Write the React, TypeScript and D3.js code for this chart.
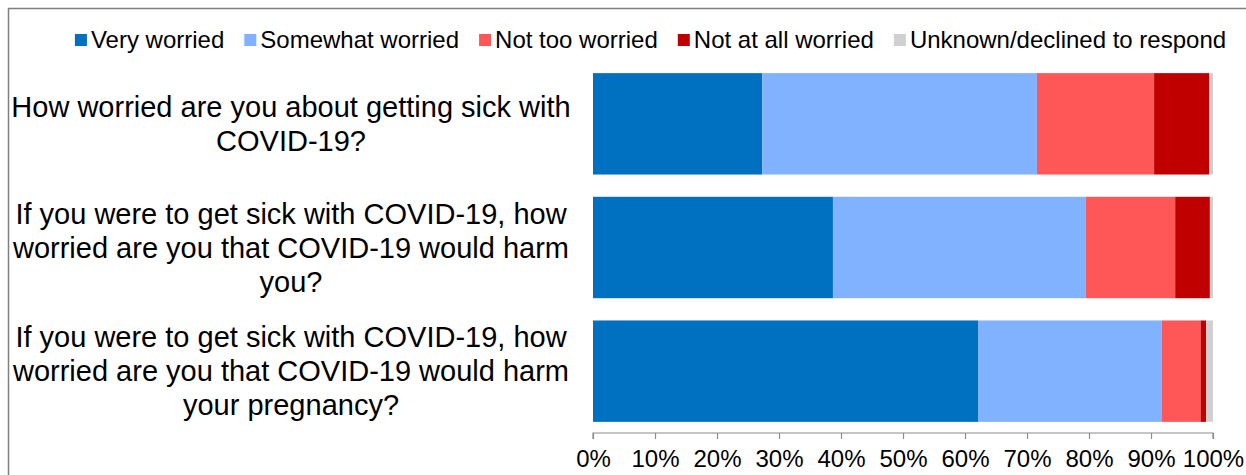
import React, { useRef, useEffect } from "react";
import * as d3 from "d3";

const questions = [
  ["How worried are you about getting sick with", "COVID-19?"],
  ["If you were to get sick with COVID-19, how", "worried are you that COVID-19 would harm", "you?"],
  ["If you were to get sick with COVID-19, how", "worried are you that COVID-19 would harm", "your pregnancy?"],
];

const responses = [
  "Very worried",
  "Somewhat worried",
  "Not too worried",
  "Not at all worried",
  "Unknown/declined to respond",
];

const colors = ["#0070C0", "#80B2FF", "#FF5757", "#C00000", "#D0D0D0"];

// percent per response, one array per question
const veryWorried = [27.3, 38.7, 62.1];
const somewhatWorried = [44.3, 40.8, 29.6];
const notTooWorried = [18.9, 14.4, 6.3];
const notAtAllWorried = [8.9, 5.6, 0.9];
const unknownDeclined = [0.6, 0.5, 1.1];

const xTicks = [0, 10, 20, 30, 40, 50, 60, 70, 80, 90, 100];

const FONT = "'Liberation Sans', Arial, sans-serif";

export default function App() {
  const ref = useRef<SVGSVGElement>(null);

  useEffect(() => {
    const svg = d3.select(ref.current);
    svg.selectAll("*").remove();

    const width = 1246;
    const height = 475;

    // frame
    svg
      .append("rect")
      .attr("x", 8.5)
      .attr("y", 8.5)
      .attr("width", width + 20)
      .attr("height", height + 20)
      .attr("fill", "white")
      .attr("stroke", "#7f7f7f")
      .attr("stroke-width", 1.5);

    const series = [veryWorried, somewhatWorried, notTooWorried, notAtAllWorried, unknownDeclined];
    const rows = questions.map((q, i) => {
      let acc = 0;
      return series.map((s, k) => {
        const x0 = acc;
        acc += s[i];
        return { x0, x1: acc, k };
      });
    });

    const x = d3.scaleLinear().domain([0, 100]).range([593, 1213]);
    const y = d3
      .scaleBand<number>()
      .domain(d3.range(questions.length))
      .range([62, 433])
      .paddingInner(0.18)
      .paddingOuter(0.09);

    const g = svg.append("g");
    rows.forEach((segs, i) => {
      g.selectAll(null)
        .data(segs)
        .enter()
        .append("rect")
        .attr("x", (d) => x(d.x0))
        .attr("y", y(i)!)
        .attr("width", (d) => Math.max(0, x(Math.min(d.x1, 100)) - x(d.x0)))
        .attr("height", y.bandwidth())
        .attr("fill", (d) => colors[d.k]);
    });

    // axis
    const axisY = 433;
    const axis = svg.append("g").attr("transform", `translate(0,${axisY})`);
    axis
      .call(
        d3
          .axisBottom(x)
          .tickValues(xTicks)
          .tickSize(6)
          .tickPadding(11)
          .tickFormat((d) => `${d}%`)
      )
      .call((a) => a.selectAll("line").attr("stroke", "#8c8c8c").attr("stroke-width", 1.2))
      .call((a) => a.select(".domain").attr("stroke", "#8c8c8c").attr("stroke-width", 1.2).attr("d", `M${x(0)},6V0H${x(100)}V6`))
      .call((a) =>
        a
          .selectAll("text")
          .attr("font-family", FONT)
          .attr("font-size", 24)
          .attr("fill", "#000")
      );

    // category labels
    const lineH = 34;
    questions.forEach((lines, i) => {
      const cy = y(i)! + y.bandwidth() / 2;
      const t = svg
        .append("text")
        .attr("font-family", FONT)
        .attr("font-size", 29)
        .attr("fill", "#000")
        .attr("text-anchor", "middle");
      lines.forEach((ln, j) => {
        t.append("tspan")
          .attr("x", 291)
          .attr("y", cy + (j - (lines.length - 1) / 2) * lineH)
          .attr("dy", "0.35em")
          .text(ln);
      });
    });

    // legend
    const leg = svg.append("g");
    let lx = 0;
    const gap = 20;
    responses.forEach((r, k) => {
      const item = leg.append("g").attr("transform", `translate(${lx},0)`);
      item
        .append("rect")
        .attr("x", 0)
        .attr("y", -6)
        .attr("width", 12)
        .attr("height", 12)
        .attr("fill", colors[k]);
      const t = item
        .append("text")
        .attr("x", 16)
        .attr("dy", "0.35em")
        .attr("font-family", FONT)
        .attr("font-size", 24)
        .attr("fill", "#000")
        .text(r);
      const w = (t.node() as SVGTextElement).getComputedTextLength();
      lx += 16 + w + gap;
    });
    const totalW = lx - gap;
    leg.attr("transform", `translate(${(73 + 1228) / 2 - totalW / 2},40)`);
  }, []);

  return (
    <svg
      ref={ref}
      width={1246}
      height={475}
      style={{ position: "fixed", left: 0, top: 0, background: "white" }}
    />
  );
}
